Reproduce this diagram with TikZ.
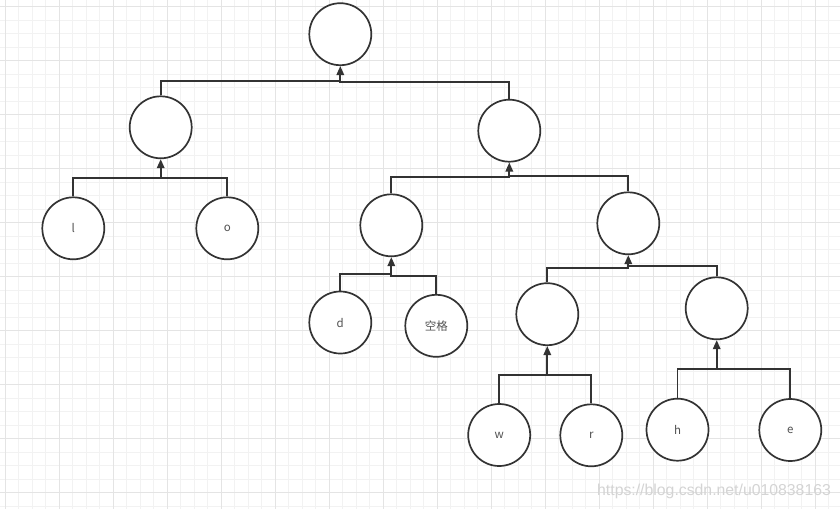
\documentclass[tikz,border=0pt]{standalone}
\usepackage{fontspec}
\setmainfont{Noto Sans CJK SC}
\newfontfamily\wmfont{Liberation Sans}
\usetikzlibrary{arrows.meta}
\definecolor{lineclr}{HTML}{333333}
\definecolor{gridminor}{HTML}{F2F2F2}
\definecolor{gridmajor}{HTML}{E4E4E4}
\begin{document}
\begin{tikzpicture}[x=1pt,y=-1pt,
  tn/.style={circle,draw=lineclr,line width=1.7pt,fill=white,minimum size=62pt,inner sep=0pt,
             font=\fontsize{11.5}{13}\selectfont,text=lineclr!85},
  conn/.style={draw=lineclr,line width=1.7pt},
  up/.style={conn,-{Triangle[length=9pt,width=7.5pt]}}]
\useasboundingbox (0,0) rectangle (840,509);
\fill[white] (0,0) rectangle (840,509);
% grid
\foreach \i in {0,...,62}{
  \draw[gridminor,line width=0.8pt] (5.3+13.5*\i,0) -- (5.3+13.5*\i,509);
}
\foreach \i in {0,...,38}{
  \draw[gridminor,line width=0.8pt] (0,6.7+13.5*\i) -- (840,6.7+13.5*\i);
}
\foreach \i in {0,...,15}{
  \draw[gridmajor,line width=0.8pt] (5.3+54*\i,0) -- (5.3+54*\i,509);
}
\foreach \i in {0,...,9}{
  \draw[gridmajor,line width=0.8pt] (0,6.7+54*\i) -- (840,6.7+54*\i);
}
% nodes
\node[tn] (root) at (340.3,34.2) {};
\node[tn] (A) at (160.7,127.3) {};
\node[tn] (B) at (509.3,130.7) {};
\node[tn] (l) at (73.3,228.3) {l};
\node[tn] (o) at (227.3,228.3) {o};
\node[tn] (C) at (391.3,225.3) {};
\node[tn] (D) at (628.3,223.3) {};
\node[tn] (d) at (340.3,322.5) {d};
\node[tn] (sp) at (436.3,325.8) {空格};
\node[tn] (E) at (547.3,314.2) {};
\node[tn] (F) at (716.7,308.3) {};
\node[tn] (w) at (499.2,435) {w};
\node[tn] (r) at (591.3,435.3) {r};
\node[tn] (h) at (677.5,429.7) {h};
\node[tn] (e) at (790.3,430) {e};
% junctions
\coordinate (jR1) at (340.3,81);   \coordinate (jR2) at (340.3,82);
\coordinate (jA) at (160.7,177.7);
\coordinate (jB1) at (509.3,177.3); \coordinate (jB2) at (509.3,176.3);
\coordinate (jC1) at (391.3,274.3); \coordinate (jC2) at (391.3,275.7);
\coordinate (jD1) at (628.3,268.3); \coordinate (jD2) at (628.3,266);
\coordinate (jE) at (547.3,375);
\coordinate (jF) at (716.7,369.3);
% connectors
\draw[conn] (A.north) |- (jR1) -- (jR2) -| (B.north);
\draw[up] (jR1) -- (root.south);
\draw[conn] (l.north) |- (jA) -| (o.north);
\draw[up] (jA) -- (A.south);
\draw[conn] (C.north) |- (jB1) -- (jB2) -| (D.north);
\draw[up] (jB2) -- (B.south);
\draw[conn] (d.north) |- (jC1) -- (jC2) -| (sp.north);
\draw[up] (jC1) -- (C.south);
\draw[conn] (E.north) |- (jD1) -- (jD2) -| (F.north);
\draw[up] (jD2) -- (D.south);
\draw[conn] (w.north) |- (jE) -| (r.north);
\draw[up] (jE) -- (E.south);
\draw[conn] (h.north) |- (jF) -| (e.north);
\draw[up] (jF) -- (F.south);
% watermark
\node[anchor=base west,inner sep=0pt,text=black!17,font=\wmfont\fontsize{15.8}{17}\selectfont] (wm) at (597,495) {https://blog.csdn.net/u010838163};
\end{tikzpicture}
\end{document}
